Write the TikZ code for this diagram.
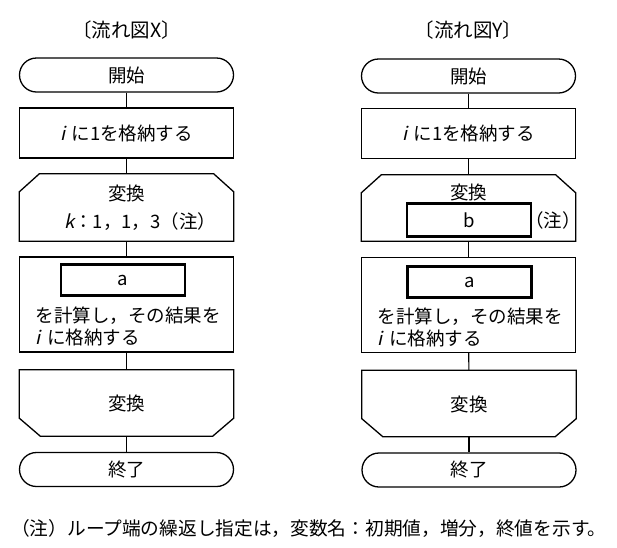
\documentclass[tikz,border=0pt]{standalone}
\usepackage{fontspec}
\setmainfont{Noto Sans CJK JP}
\newfontfamily\itf[FakeSlant=0.22]{Noto Sans CJK JP}
\usetikzlibrary{calc}
\begin{document}
\begin{tikzpicture}[x=1pt,y=-1pt,
  font=\fontsize{18.5pt}{22pt}\selectfont,
  outer/.style={line width=1.3pt},
  term/.style={outer, draw, rounded corners=17pt, minimum width=214pt, minimum height=34pt, inner sep=0pt},
  proc/.style={outer, draw, minimum width=214pt, inner sep=0pt},
  blank/.style={inner sep=0pt, minimum width=214pt},
  slot/.style={draw, line width=2.8pt, minimum width=124pt, minimum height=31pt, inner sep=0pt},
  conn/.style={line width=1.1pt},
  lbl/.style={inner sep=0pt},
  ttl/.style={inner sep=0pt, font=\fontsize{19.5pt}{22pt}\selectfont}]
\useasboundingbox (0,0) rectangle (617,547);

% ---------- Flow chart X ----------
\node[ttl] (tx) at (126.5,30) {〔流れ図X〕};
\node[term] (xs) at (126.5,75) {開始};
\node[proc, minimum height=50pt] (xp1) at (126.5,133) {{\itf i}\hspace{0.35em}に1を格納する};
\node[blank, minimum height=67pt] (xls) at (126.5,207.5) {};
\draw[outer] (xls.south west) -- ($(xls.north west)+(0,18)$) -- ($(xls.north west)+(20,0)$)
  -- ($(xls.north east)+(-20,0)$) -- ($(xls.north east)+(0,18)$) -- (xls.south east) -- cycle;
\node[lbl] (xlt) at (126.5,193) {変換};
\node[lbl, anchor=west] (xlc) at (64,222) {{\itf k}：1，1，3（注）};
\node[proc, minimum height=95pt] (xp2) at (126.5,304.5) {};
\node[slot] (xa) at (123,280) {a};
\node[lbl, align=left] (xt) at (128,326) {を計算し，その結果を\\{\itf i}\hspace{0.35em}に格納する};
\node[blank, minimum height=66pt] (xle) at (126.5,403) {};
\draw[outer] (xle.north west) -- ($(xle.south west)+(0,-18)$) -- ($(xle.south west)+(21,0)$)
  -- ($(xle.south east)+(-21,0)$) -- ($(xle.south east)+(0,-18)$) -- (xle.north east) -- cycle;
\node[lbl] (xlet) at (126.5,403) {変換};
\node[term] (xe) at (126.5,469.5) {終了};
\draw[conn] (xs) -- (xp1);
\draw[conn] (xp1) -- (xls);
\draw[conn] (xls) -- (xp2);
\draw[conn] (xp2) -- (xle);
\draw[conn] (xle) -- (xe);

% ---------- Flow chart Y ----------
\node[ttl] (ty) at (468.5,30) {〔流れ図Y〕};
\node[term] (ys) at (468.5,76) {開始};
\node[proc, minimum height=50pt] (yp1) at (468.5,133.5) {{\itf i}\hspace{0.35em}に1を格納する};
\node[blank, minimum height=66pt] (yls) at (468.5,208) {};
\draw[outer] (yls.south west) -- ($(yls.north west)+(0,18)$) -- ($(yls.north west)+(20,0)$)
  -- ($(yls.north east)+(-20,0)$) -- ($(yls.north east)+(0,18)$) -- (yls.south east) -- cycle;
\node[lbl] (ylt) at (468.5,192) {変換};
\node[slot, minimum height=33pt] (yb) at (469,220) {b};
\node[lbl] (yn) at (553,220) {（注）};
\node[proc, minimum height=95pt] (yp2) at (468.5,305) {};
\node[slot] (ya) at (469.5,282) {a};
\node[lbl, align=left] (yt) at (470,327.5) {を計算し，その結果を\\{\itf i}\hspace{0.35em}に格納する};
\node[blank, minimum height=66pt] (yle) at (469,403.5) {};
\draw[outer] (yle.north west) -- ($(yle.south west)+(0,-18)$) -- ($(yle.south west)+(21,0)$)
  -- ($(yle.south east)+(-21,0)$) -- ($(yle.south east)+(0,-18)$) -- (yle.north east) -- cycle;
\node[lbl] (ylet) at (469,404) {変換};
\node[term] (ye) at (469,470) {終了};
\draw[conn] (ys) -- (yp1);
\draw[conn] (yp1) -- (yls);
\draw[conn] (yls) -- (yp2);
\draw[conn] (yp2) -- (yle);
\draw[conn] (yle) -- (ye);

% ---------- Note ----------
\node[lbl, anchor=west, font=\fontsize{18.7pt}{22pt}\selectfont] (note) at (11,528)
  {（注）ループ端の繰返し指定は，変数名：初期値，増分，終値を示す。};
\end{tikzpicture}
\end{document}
